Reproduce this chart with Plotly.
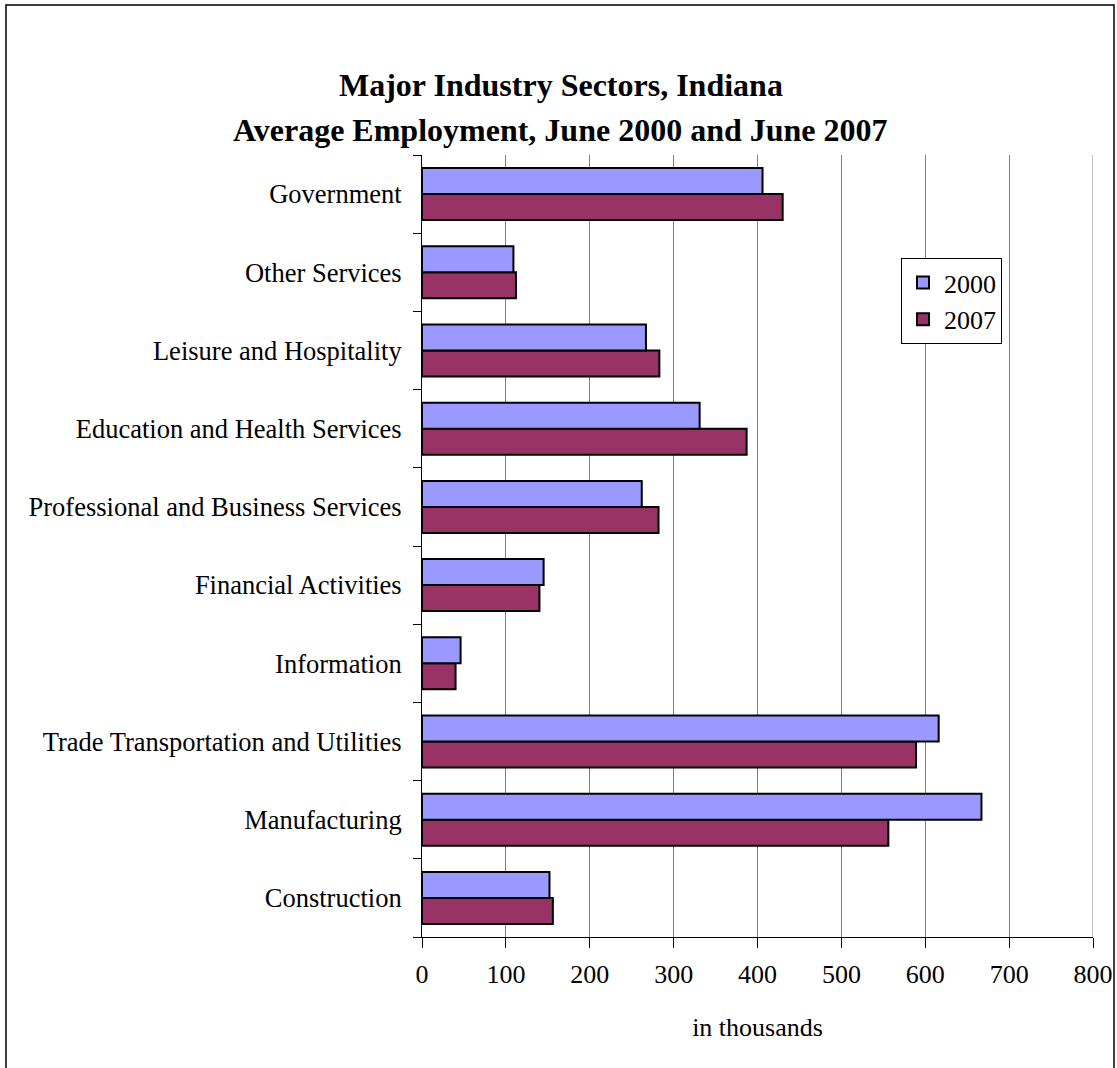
import plotly.graph_objects as go

# Sectors listed bottom-to-top as they appear on the category axis
sectors = [
    "Construction",
    "Manufacturing",
    "Trade Transportation and Utilities",
    "Information",
    "Financial Activities",
    "Professional and Business Services",
    "Education and Health Services",
    "Leisure and Hospitality",
    "Other Services",
    "Government",
]

# Average employment in thousands
jobs_2000 = [152, 667, 616, 46, 145, 262, 331, 267, 109, 406]
jobs_2007 = [156, 556, 589, 40, 140, 282, 387, 283, 112, 430]

x_ticks = [0, 100, 200, 300, 400, 500, 600, 700, 800]

SERIF = "Liberation Serif, Times New Roman, serif"

fig = go.Figure()
# 2007 added first so that within each group the 2000 bar sits on top
fig.add_trace(go.Bar(
    y=sectors, x=jobs_2007, name="2007", orientation="h",
    marker=dict(color="#993366", line=dict(color="black", width=2)),
    legendrank=2,
))
fig.add_trace(go.Bar(
    y=sectors, x=jobs_2000, name="2000", orientation="h",
    marker=dict(color="#9999FF", line=dict(color="black", width=2)),
    legendrank=1,
))

L, R, T, B = 422, 24, 155, 131
W, H = 1117, 1068
pw, ph = W - L - R, H - T - B

def px_x(v):
    return (v - L) / pw

def px_y(v):
    return (H - B - v) / ph

fig.update_layout(
    width=W, height=H,
    margin=dict(l=L, r=R, t=T, b=B),
    paper_bgcolor="white", plot_bgcolor="white",
    barmode="group", bargap=0.335, bargroupgap=0,
    font=dict(family=SERIF, size=26, color="black"),
    showlegend=True,
    legend=dict(
        x=px_x(901), y=px_y(258), xanchor="left", yanchor="top",
        bgcolor="white", bordercolor="black", borderwidth=1,
        font=dict(family=SERIF, size=26, color="black"),
        itemwidth=32, tracegroupgap=0,
    ),
    xaxis=dict(
        range=[0, 800], tickvals=x_ticks, ticktext=[str(v) for v in x_ticks],
        showgrid=True, gridcolor="#808080", gridwidth=1,
        showline=True, linecolor="black", linewidth=1,
        ticks="outside", ticklen=10, tickcolor="black",
        ticklabelstandoff=4, zeroline=False, automargin=False,
        title=dict(text="in thousands", font=dict(family=SERIF, size=26), standoff=29),
        tickfont=dict(family=SERIF, size=26),
    ),
    yaxis=dict(
        type="category", categoryorder="array", categoryarray=sectors,
        showline=True, linecolor="black", linewidth=1,
        ticks="outside", ticklen=8, tickcolor="black", tickson="boundaries",
        ticklabelstandoff=14, showgrid=False, automargin=False,
        tickfont=dict(family=SERIF, size=26.5),
    ),
    annotations=[
        dict(text="<b>Major Industry Sectors, Indiana</b>", xref="paper", yref="paper",
             x=px_x(561), y=px_y(85), xanchor="center", yanchor="middle",
             showarrow=False, font=dict(family=SERIF, size=32, color="black")),
        dict(text="<b>Average Employment, June 2000 and June 2007</b>", xref="paper", yref="paper",
             x=px_x(560), y=px_y(130), xanchor="center", yanchor="middle",
             showarrow=False, font=dict(family=SERIF, size=32, color="black")),
    ],
    shapes=[
        # gridline at the far end of the value axis
        dict(type="line", xref="x", yref="paper", x0=x_ticks[-1], x1=x_ticks[-1],
             y0=0, y1=1, line=dict(color="#808080", width=1), layer="below"),
        # outer chart frame
        dict(type="rect", xref="paper", yref="paper",
             x0=px_x(6), x1=px_x(1114), y0=px_y(1075), y1=px_y(5),
             line=dict(color="black", width=1.5), fillcolor="rgba(0,0,0,0)", layer="above"),
    ],
)

fig.write_html("out.html")
